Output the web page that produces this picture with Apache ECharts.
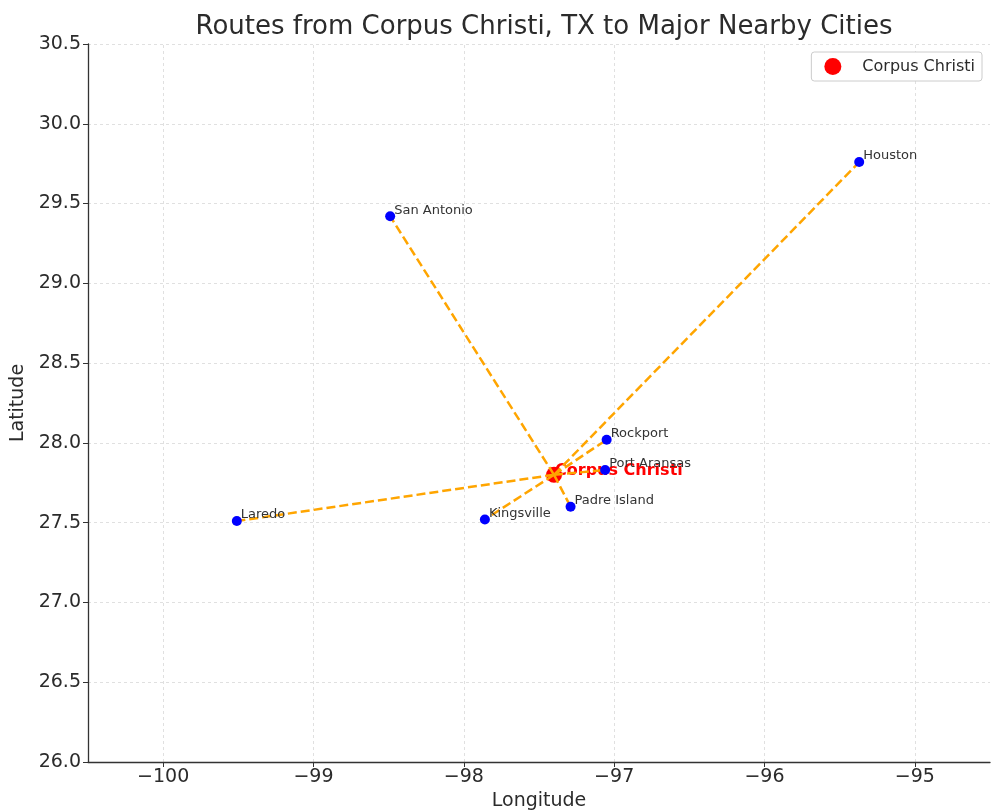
<!DOCTYPE html>
<html><head><meta charset="utf-8">
<script src="https://cdn.jsdelivr.net/npm/echarts@6/dist/echarts.min.js"></script>
<style>html,body{margin:0;padding:0;background:#fff}#c{width:999px;height:811px}</style>
</head><body><div id="c"></div>
<script>
const originName = 'Corpus Christi';
const originLon = -97.40;
const originLat = 27.80;
const cityNames = ['Houston', 'San Antonio', 'Laredo', 'Kingsville', 'Rockport', 'Port Aransas', 'Padre Island'];
const cityLons = [-95.37, -98.49, -99.51, -97.86, -97.05, -97.06, -97.29];
const cityLats = [29.76, 29.42, 27.51, 27.52, 28.02, 27.83, 27.60];
const xTicks = [-100, -99, -98, -97, -96, -95];

const FONT = 'DejaVu Sans';
const chart = echarts.init(document.getElementById('c'), null, {renderer: 'canvas'});

const routeSeries = cityNames.map((n, i) => ({
  name: 'route-' + n,
  type: 'line',
  data: [[originLon, originLat], [cityLons[i], cityLats[i]]],
  symbol: 'none',
  lineStyle: {color: '#FFA500', width: 2.5, type: [9, 4]},
  z: 3,
  silent: true,
  animation: false
}));

const option = {
  animation: false,
  title: {
    text: 'Routes from Corpus Christi, TX to Major Nearby Cities',
    left: 539, top: 9, textAlign: 'center',
    textStyle: {fontFamily: FONT, fontSize: 26, fontWeight: 'normal', color: '#2b2b2b'}
  },
  legend: {
    data: [originName],
    right: 17, top: 52,
    itemWidth: 17, itemHeight: 17, itemGap: 10,
    padding: [6, 7, 6, 13],
    borderColor: '#ccc', borderWidth: 1, borderRadius: 3,
    backgroundColor: '#fff',
    textStyle: {fontFamily: FONT, fontSize: 16, color: '#2b2b2b', padding: [0, 0, 0, 16]}
  },
  grid: {left: 88, right: 9, top: 44, bottom: 49, containLabel: false, outerBoundsMode: 'none'},
  xAxis: {
    type: 'value', min: -100.5, max: -94.5,
    name: 'Longitude', nameLocation: 'middle', nameGap: 29,
    nameTextStyle: {fontFamily: FONT, fontSize: 19, color: '#2b2b2b'},
    axisLine: {show: true, onZero: false, lineStyle: {color: '#333', width: 1.3}},
    axisTick: {show: true, length: 5, customValues: xTicks, lineStyle: {color: '#333'}},
    axisLabel: {customValues: xTicks, fontFamily: FONT, fontSize: 19, color: '#2b2b2b', margin: 6,
      formatter: v => (v < 0 ? '\u2212' + Math.abs(v) : String(v))},
    splitLine: {show: false}
  },
  yAxis: {
    type: 'value', min: 26, max: 30.5, interval: 0.5,
    name: 'Latitude', nameLocation: 'middle', nameGap: 52,
    nameTextStyle: {fontFamily: FONT, fontSize: 19, color: '#2b2b2b'},
    axisLine: {show: true, onZero: false, lineStyle: {color: '#333', width: 1.3}},
    axisTick: {show: true, length: 5, lineStyle: {color: '#333'}},
    axisLabel: {fontFamily: FONT, fontSize: 19, color: '#2b2b2b', margin: 7, formatter: v => v.toFixed(1)},
    splitLine: {show: true, lineStyle: {color: '#e0e0e0', type: [3, 3], width: 1}}
  },
  series: [
    {
      name: 'grid-x', type: 'line', data: [], silent: true,
      markLine: {
        silent: true, z: 0, symbol: ['none', 'none'], label: {show: false},
        lineStyle: {color: '#e0e0e0', type: [3, 3], width: 1},
        data: xTicks.map(v => ({xAxis: v}))
      },
      z: 0
    },
    {
      name: originName, type: 'scatter',
      data: [[originLon, originLat]],
      symbol: 'circle', symbolSize: 16,
      itemStyle: {color: '#FF0000', opacity: 1},
      label: {show: true, formatter: originName, position: 'right', distance: -7, offset: [0, -4],
        fontFamily: FONT, fontSize: 16, fontWeight: 'bold', color: '#FF0000'},
      z: 2
    },
    ...routeSeries,
    {
      name: 'cities', type: 'scatter',
      data: cityNames.map((n, i) => ({name: n, value: [cityLons[i], cityLats[i]]})),
      symbol: 'circle', symbolSize: 10,
      itemStyle: {color: '#0000FF', opacity: 1},
      label: {show: true, formatter: p => p.name, position: 'right', distance: -1, offset: [0, -6],
        fontFamily: FONT, fontSize: 13, color: '#333'},
      z: 4
    }
  ]
};
chart.setOption(option);
</script>
</body></html>
